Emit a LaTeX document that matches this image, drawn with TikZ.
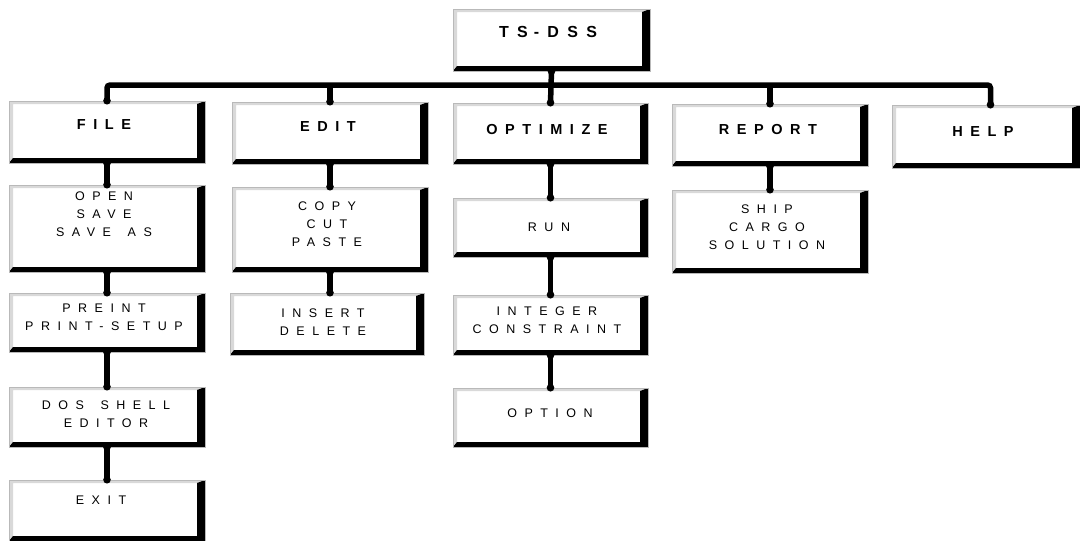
\documentclass[tikz,border=0pt]{standalone}
\usepackage{fontspec}
\newfontfamily\hdfont[LetterSpace=52]{Liberation Sans}
\newfontfamily\sbfont[LetterSpace=60]{Liberation Sans}
\tikzset{
  bx/.style={inner sep=0pt, draw=gray!55, line width=0.5pt, fill=white,
    path picture={
      \fill[gray!30] (path picture bounding box.north west) -- (path picture bounding box.north east)
        -- ([xshift=-8pt,yshift=-3pt]path picture bounding box.north east)
        -- ([xshift=4pt,yshift=-3pt]path picture bounding box.north west)
        -- ([xshift=4pt,yshift=5pt]path picture bounding box.south west)
        -- (path picture bounding box.south west) -- cycle;
      \fill[black] (path picture bounding box.north east) -- (path picture bounding box.south east)
        -- (path picture bounding box.south west)
        -- ([xshift=4pt,yshift=5pt]path picture bounding box.south west)
        -- ([xshift=-8pt,yshift=5pt]path picture bounding box.south east)
        -- ([xshift=-8pt,yshift=-3pt]path picture bounding box.north east) -- cycle;
    }},
  hd/.style={font=\hdfont\bfseries\fontsize{14.5}{17}\selectfont, inner sep=0pt},
  top/.style={font=\hdfont\bfseries\fontsize{16}{18}\selectfont, inner sep=0pt},
  sb/.style={font=\sbfont\fontsize{12.5}{18}\selectfont, align=center, inner sep=0pt},
  conn/.style={line width=5.5pt, black},
  dot/.style={fill=black},
}
\newcommand\mkbox[5]{%
  \pgfmathsetmacro\bxcx{(#2+#4)/2}%
  \pgfmathsetmacro\bxcy{(#3+#5)/2}%
  \pgfmathsetmacro\bxw{#4-#2}%
  \pgfmathsetmacro\bxh{#5-#3}%
  \node[bx, minimum width=\bxw pt, minimum height=\bxh pt] (#1) at (\bxcx,\bxcy) {};}
\newcommand\vconn[2]{%
  \draw[conn] (#1.south) -- (#1.south |- #2.north);
  \fill[dot] (#1.south) circle (3.8pt);
  \fill[dot] (#1.south |- #2.north) circle (3.8pt);}
\newcommand\wsp{\hspace*{0.45em}}
\begin{document}
\begin{tikzpicture}[x=1pt,y=-1pt]
\useasboundingbox (0,0) rectangle (1080,541);
% boxes
\mkbox{ts}{453}{9}{650}{71}
\mkbox{file}{9}{101}{205}{163}
\mkbox{edit}{232}{102}{428}{164}
\mkbox{opt}{453}{103}{648}{164}
\mkbox{report}{672}{104}{868}{166}
\mkbox{help}{892}{105}{1080}{168}
\mkbox{open}{9}{185}{205}{272}
\mkbox{copy}{232}{187}{428}{272}
\mkbox{run}{453}{198}{648}{257}
\mkbox{ship}{672}{190}{868}{273}
\mkbox{print}{9}{293}{205}{352}
\mkbox{insert}{230}{293}{424}{355}
\mkbox{integer}{453}{295}{648}{355}
\mkbox{dos}{9}{387}{205}{447}
\mkbox{option}{453}{388}{648}{447}
\mkbox{exit}{9}{480}{205}{541}
% texts
\node[top] (ts-t) at (548,32) {\mbox{TS}\kern6pt\mbox{-DSS}};
\node[hd] (file-t) at (104,125) {FILE};
\node[hd] (edit-t) at (328,127) {EDIT};
\node[hd] (opt-t) at (547,130) {OPTIMIZE};
\node[hd] (report-t) at (768,130) {REPORT};
\node[hd] (help-t) at (983,132) {HELP};
\node[sb] (open-t) at (104,214) {OPEN\\SAVE\\SAVE \wsp{}AS};
\node[sb] (copy-t) at (327,224) {COPY\\CUT\\PASTE};
\node[sb] (run-t) at (549,227) {RUN};
\node[sb] (ship-t) at (767,227) {SHIP\\CARGO\\SOLUTION};
\node[sb] (print-t) at (104,317) {PREINT\\PRINT-SETUP};
\node[sb] (insert-t) at (323,322) {INSERT\\DELETE};
\node[sb] (integer-t) at (547,320) {INTEGER\\CONSTRAINT};
\node[sb] (dos-t) at (106,414) {DOS \wsp{}SHELL\\EDITOR};
\node[sb] (option-t) at (550,413) {OPTION};
\node[sb] (exit-t) at (101,500) {EXIT};
% top bar
\coordinate (bar) at (550,85);
\coordinate (helpin) at ([xshift=4.5pt]help.north);
\draw[conn, rounded corners=3pt] (file.north) |- (bar) -| (helpin);
\draw[conn] (edit.north) -- (edit.north |- bar);
\draw[conn] (report.north) -- (report.north |- bar);
\draw[conn] (ts.south) -- (opt.north);
\foreach \n in {file,edit,opt,report} \fill[dot] (\n.north) circle (3.8pt);
\fill[dot] (helpin) circle (3.8pt);
\fill[dot] (ts.south) circle (3.8pt);
% vertical connectors
\vconn{file}{open}
\vconn{open}{print}
\vconn{print}{dos}
\vconn{dos}{exit}
\vconn{edit}{copy}
\vconn{copy}{insert}
\vconn{opt}{run}
\vconn{run}{integer}
\vconn{integer}{option}
\vconn{report}{ship}
\end{tikzpicture}
\end{document}
